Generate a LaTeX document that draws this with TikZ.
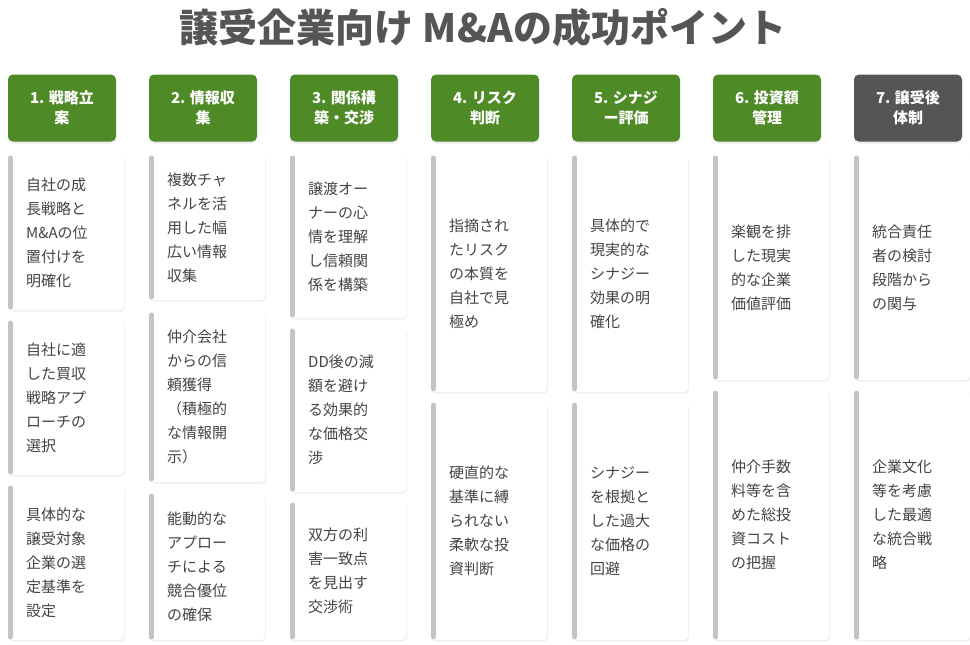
\documentclass[tikz,border=0pt]{standalone}
\usepackage{fontspec}
\setmainfont{Noto Sans CJK JP}
\usetikzlibrary{shadows}
\definecolor{hdgreen}{HTML}{4E8A26}
\definecolor{hdgray}{HTML}{555555}
\definecolor{bargray}{HTML}{C4C4C4}
\definecolor{txtgray}{HTML}{444444}
\tikzset{
  header/.style={rounded corners=5pt, fill=hdgreen, text=white, font=\bfseries\fontsize{15}{20}\selectfont,
    align=center, minimum width=108pt, minimum height=67pt, inner sep=0pt,
    drop shadow={opacity=0.15, shadow xshift=0pt, shadow yshift=-2pt}},
  cardbox/.style={rounded corners=4pt, fill=white, draw=none,
    drop shadow={opacity=0.12, shadow xshift=1pt, shadow yshift=-1.5pt}},
  cardtext/.style={anchor=west, align=left, text=txtgray, font=\fontsize{15}{24}\selectfont, inner sep=0pt}
}
% card: name, left x, top y, bottom y, text
\newcommand{\card}[5]{
  \fill[cardbox] (#2,-#3) rectangle (#2+116,-#4);
  \draw[bargray, line width=5pt, line cap=round] (#2+2.5,-#3-3) -- (#2+2.5,-#4+3);
  \node[cardtext] (#1) at (#2+18,{-(#3+#4)/2}) {#5};
}
\begin{document}
\begin{tikzpicture}[x=1pt, y=1pt]
\useasboundingbox (0,0) rectangle (970,-645);
\node[text=hdgray, font=\bfseries\fontsize{39}{44}\selectfont] (title) at (483,-28) {譲受企業向け M\&Aの成功ポイント};
% headers
\node[header] (h1) at (62,-108) {1. 戦略立\\案};
\node[header] (h2) at (203,-108) {2. 情報収\\集};
\node[header] (h3) at (344,-108) {3. 関係構\\築・交渉};
\node[header] (h4) at (485,-108) {4. リスク\\判断};
\node[header] (h5) at (626,-108) {5. シナジ\\ー評価};
\node[header] (h6) at (767,-108) {6. 投資額\\管理};
\node[header, fill=hdgray] (h7) at (908,-108) {7. 譲受後\\体制};
% column 1
\card{c11}{8}{155}{310}{自社の成\\長戦略と\\M\&Aの位\\置付けを\\明確化}
\card{c12}{8}{320}{475}{自社に適\\した買収\\戦略アプ\\ローチの\\選択}
\card{c13}{8}{485}{640}{具体的な\\譲受対象\\企業の選\\定基準を\\設定}
% column 2
\card{c21}{149}{155}{300}{複数チャ\\ネルを活\\用した幅\\広い情報\\収集}
\card{c22}{149}{312}{482}{仲介会社\\からの信\\頼獲得\\（積極的\\な情報開\\示）}
\card{c23}{149}{493}{640}{能動的な\\アプロー\\チによる\\競合優位\\の確保}
% column 3
\card{c31}{290}{155}{318}{譲渡オー\\ナーの心\\情を理解\\し信頼関\\係を構築}
\card{c32}{290}{328}{492}{DD後の減\\額を避け\\る効果的\\な価格交\\渉}
\card{c33}{290}{502}{640}{双方の利\\害一致点\\を見出す\\交渉術}
% column 4
\card{c41}{431}{155}{392}{指摘され\\たリスク\\の本質を\\自社で見\\極め}
\card{c42}{431}{402}{640}{硬直的な\\基準に縛\\られない\\柔軟な投\\資判断}
% column 5
\card{c51}{572}{155}{392}{具体的で\\現実的な\\シナジー\\効果の明\\確化}
\card{c52}{572}{402}{640}{シナジー\\を根拠と\\した過大\\な価格の\\回避}
% column 6
\card{c61}{713}{155}{380}{楽観を排\\した現実\\的な企業\\価値評価}
\card{c62}{713}{390}{640}{仲介手数\\料等を含\\めた総投\\資コスト\\の把握}
% column 7
\card{c71}{854}{155}{380}{統合責任\\者の検討\\段階から\\の関与}
\card{c72}{854}{390}{640}{企業文化\\等を考慮\\した最適\\な統合戦\\略}
\end{tikzpicture}
\end{document}
